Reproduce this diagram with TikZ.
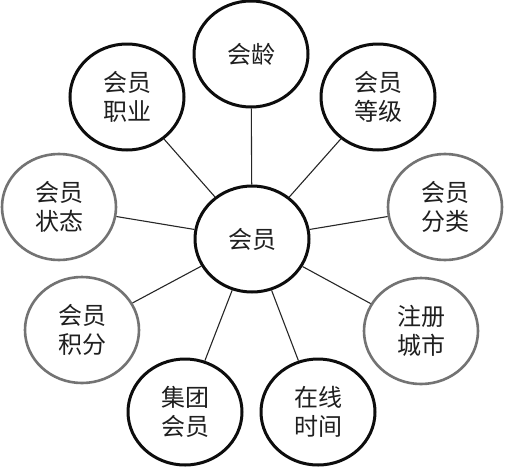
\documentclass[tikz,border=0pt]{standalone}
\usepackage{fontspec}
\newfontfamily\cjk{Noto Sans CJK SC}
\usepackage{xcolor}
\definecolor{ringDark}{gray}{0.05}
\definecolor{ringGray}{gray}{0.45}
\definecolor{textDark}{gray}{0.12}
\usetikzlibrary{shapes.geometric}

\begin{document}
\begin{tikzpicture}[x=1pt, y=-1pt,
    bubble/.style={ellipse, draw=ringDark, line width=3pt, fill=white,
      minimum width=114pt, minimum height=106pt, inner sep=0pt,
      align=center, text=textDark, font=\cjk\fontsize{24}{29}\selectfont},
    pale/.style={bubble, draw=ringGray, line width=2.6pt},
    spoke/.style={line width=1.1pt, draw=black!85}]
  \useasboundingbox (0,0) rectangle (505,466);
  % ---- hub and the nine satellites ----
  \node[bubble] (hub)    at (252,239) {会员};
  \node[bubble] (age)    at (251,54)  {会龄};
  \node[bubble] (job)    at (127,97)  {会员\\职业};
  \node[bubble] (grade)  at (378,97)  {会员\\等级};
  \node[pale]   (state)  at (59,207)  {会员\\状态};
  \node[pale]   (kind)   at (445,207) {会员\\分类};
  \node[pale]   (points) at (82,330)  {会员\\积分};
  \node[pale]   (city)   at (421,331) {注册\\城市};
  \node[bubble] (group)  at (185,412) {集团\\会员};
  \node[bubble] (online) at (318,412) {在线\\时间};
  % ---- spokes from the hub ----
  \foreach \s in {age,job,grade,state,kind,points,city,group,online}
    \draw[spoke] (hub) -- (\s);
\end{tikzpicture}
\end{document}
